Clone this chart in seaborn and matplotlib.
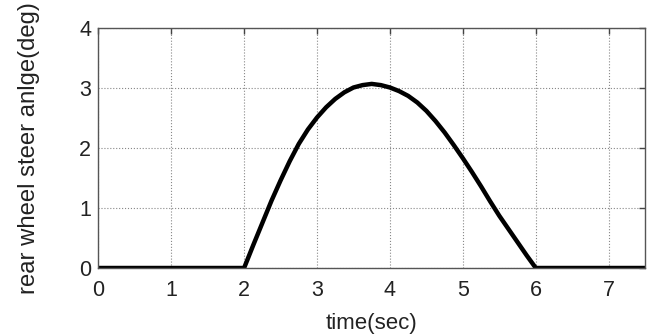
# Rear wheel steer angle over time

import pandas as pd
import matplotlib.pyplot as plt
import seaborn as sns

# Values
time = [0.0, 1.0, 2.0, 2.125, 2.25, 2.375, 2.5, 2.625, 2.75, 2.875, 3.0,
        3.125, 3.25, 3.375, 3.5, 3.625, 3.75, 3.875, 4.0, 4.125, 4.25,
        4.375, 4.5, 4.625, 4.75, 4.875, 5.0, 5.125, 5.25, 5.375, 5.5,
        5.625, 5.75, 5.875, 6.0, 7.0, 7.5]
angle = [0.0, 0.0, 0.0, 0.38, 0.75, 1.12, 1.46, 1.78, 2.07, 2.31, 2.51,
         2.68, 2.82, 2.93, 3.01, 3.05, 3.07, 3.05, 3.01, 2.95, 2.87,
         2.76, 2.62, 2.45, 2.26, 2.05, 1.83, 1.60, 1.36, 1.11, 0.87,
         0.65, 0.43, 0.21, 0.0, 0.0, 0.0]
x_ticks = [0, 1, 2, 3, 4, 5, 6, 7]
y_ticks = [0, 1, 2, 3, 4]

df = pd.DataFrame({'time': time, 'angle': angle})

sns.set_style('white')
plt.rcParams['font.family'] = ['Liberation Sans', 'DejaVu Sans']

fig = plt.figure(figsize=(6.55, 3.35), dpi=100)
ax = fig.add_axes([0.15, 0.2, 0.835, 0.716])

sns.lineplot(x='time', y='angle', data=df, color='black', linewidth=3.2, ax=ax)

ax.set_xlim(0, 7.5)
ax.set_ylim(0, 4)
ax.set_xticks(x_ticks)
ax.set_yticks(y_ticks)
ax.grid(True, linestyle=':', color='#888888', linewidth=0.8)
ax.tick_params(direction='in', top=True, right=True, length=4, width=1,
               color='#444444', labelsize=15.5, colors='#222222')
ax.tick_params(axis='x', pad=9)
ax.tick_params(axis='y', pad=5)
for s in ax.spines.values():
    s.set_color('#555555')
    s.set_linewidth(1)

ax.set_xlabel('time(sec)', fontsize=16, color='#222222', labelpad=8)
ax.set_ylabel('rear wheel steer anlge(deg)', fontsize=17.2, color='#222222', labelpad=28)

plt.savefig('out.png', dpi=100)
